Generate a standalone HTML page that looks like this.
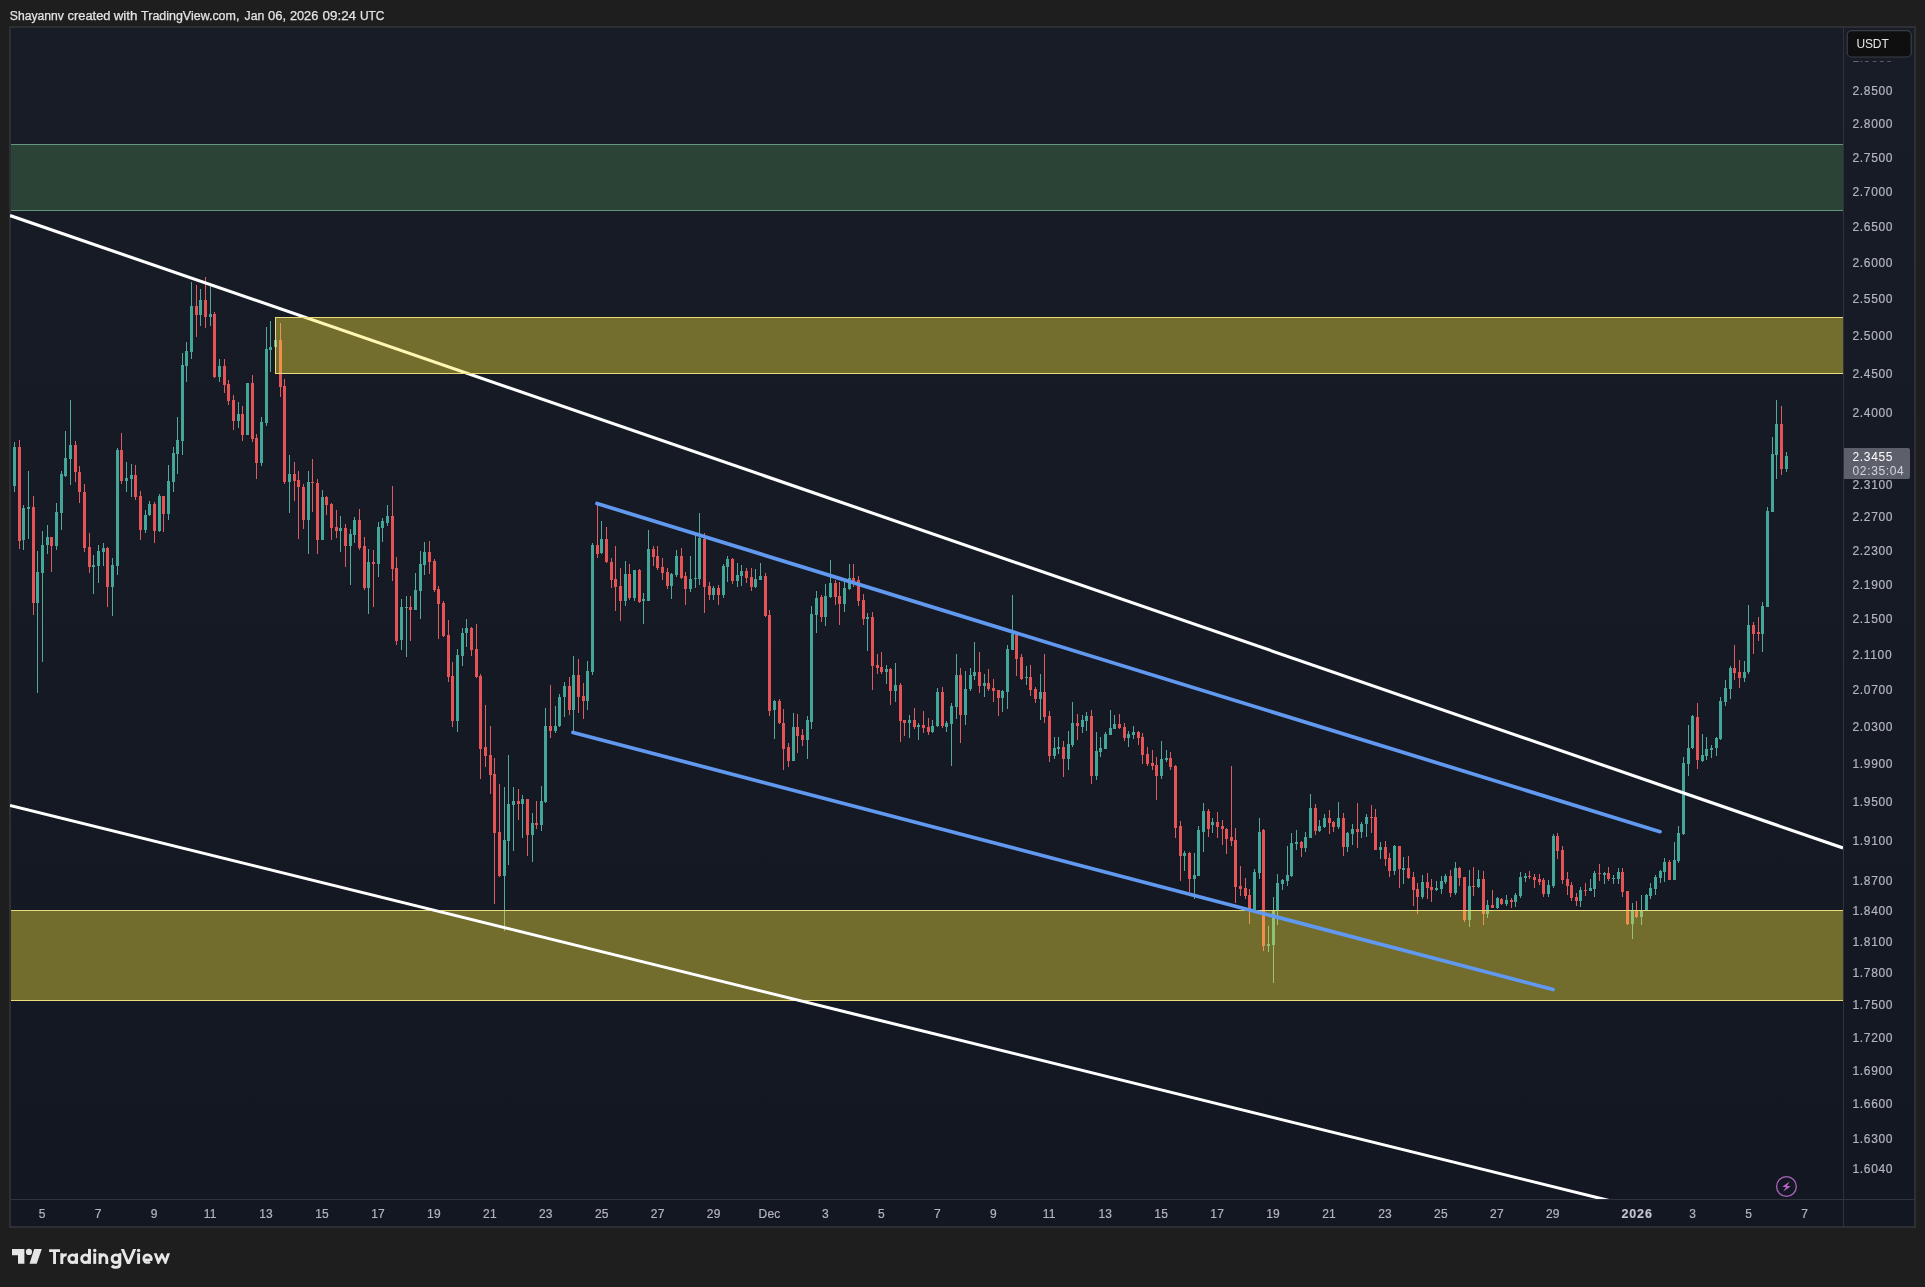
<!DOCTYPE html><html><head><meta charset="utf-8"><title>chart</title>
<style>html,body{margin:0;padding:0;background:#1e1e1e;}svg{display:block}text{font-family:"Liberation Sans",sans-serif;}</style></head><body>
<svg width="1925" height="1287" viewBox="0 0 1925 1287">
<defs><linearGradient id="bg" x1="0" y1="0" x2="0" y2="1"><stop offset="0" stop-color="#181c27"/><stop offset="1" stop-color="#131722"/></linearGradient>
<filter id="ga" x="-5%" y="-20%" width="110%" height="140%" color-interpolation-filters="sRGB"><feOffset dx="0" dy="0"/></filter>
<clipPath id="pane"><rect x="10" y="27" width="1833" height="1172"/></clipPath></defs>
<rect width="1925" height="1287" fill="#1e1e1e"/>
<rect x="9" y="26" width="1907" height="1202" fill="#2d2f34"/>
<rect x="11" y="28" width="1903" height="1198" fill="url(#bg)"/>
<rect x="1843" y="28" width="1" height="1198" fill="#2f333d"/>
<rect x="11" y="1199" width="1903" height="1" fill="#2f333d"/>
<g clip-path="url(#pane)">
<path d="M14 442h1V492h-1ZM23 505h1V550h-1ZM28 471h1V539h-1ZM37 551h1V693h-1ZM42 531h1V662h-1ZM47 525h1V554h-1ZM56 503h1V550h-1ZM61 471h1V530h-1ZM65 431h1V477h-1ZM70 400h1V485h-1ZM93 555h1V594h-1ZM98 545h1V583h-1ZM103 543h1V566h-1ZM112 558h1V616h-1ZM117 448h1V575h-1ZM126 462h1V492h-1ZM131 464h1V497h-1ZM145 510h1V533h-1ZM149 501h1V516h-1ZM159 494h1V532h-1ZM168 465h1V520h-1ZM173 447h1V492h-1ZM177 417h1V474h-1ZM182 353h1V455h-1ZM186 342h1V382h-1ZM191 282h1V359h-1ZM200 289h1V326h-1ZM210 286h1V326h-1ZM219 359h1V382h-1ZM238 402h1V428h-1ZM247 383h1V435h-1ZM261 417h1V466h-1ZM266 327h1V426h-1ZM270 321h1V372h-1ZM275 340h1V348h-1ZM289 455h1V513h-1ZM308 471h1V554h-1ZM322 490h1V540h-1ZM340 516h1V552h-1ZM350 529h1V585h-1ZM354 517h1V543h-1ZM368 549h1V614h-1ZM378 522h1V577h-1ZM382 518h1V542h-1ZM387 505h1V526h-1ZM401 599h1V650h-1ZM406 596h1V657h-1ZM415 573h1V610h-1ZM420 551h1V619h-1ZM424 542h1V575h-1ZM457 649h1V732h-1ZM462 628h1V666h-1ZM466 619h1V647h-1ZM504 787h1V931h-1ZM508 755h1V865h-1ZM513 787h1V851h-1ZM522 795h1V838h-1ZM532 813h1V862h-1ZM541 786h1V831h-1ZM545 708h1V803h-1ZM555 706h1V733h-1ZM559 694h1V727h-1ZM564 682h1V717h-1ZM573 656h1V731h-1ZM587 661h1V710h-1ZM592 543h1V675h-1ZM601 521h1V554h-1ZM625 561h1V606h-1ZM634 570h1V601h-1ZM643 593h1V624h-1ZM648 530h1V601h-1ZM671 573h1V599h-1ZM676 550h1V577h-1ZM690 556h1V592h-1ZM695 534h1V588h-1ZM699 513h1V585h-1ZM713 586h1V600h-1ZM723 564h1V598h-1ZM727 556h1V582h-1ZM737 563h1V587h-1ZM741 565h1V586h-1ZM755 569h1V588h-1ZM760 563h1V580h-1ZM774 700h1V739h-1ZM793 713h1V761h-1ZM807 716h1V759h-1ZM811 606h1V729h-1ZM816 591h1V633h-1ZM825 584h1V626h-1ZM830 560h1V598h-1ZM844 582h1V612h-1ZM849 564h1V590h-1ZM867 613h1V651h-1ZM886 665h1V684h-1ZM895 663h1V702h-1ZM909 715h1V738h-1ZM918 723h1V740h-1ZM932 720h1V733h-1ZM937 688h1V727h-1ZM946 721h1V732h-1ZM951 703h1V766h-1ZM956 654h1V719h-1ZM965 671h1V725h-1ZM970 668h1V691h-1ZM974 642h1V680h-1ZM984 674h1V697h-1ZM1002 690h1V712h-1ZM1007 645h1V709h-1ZM1012 595h1V650h-1ZM1026 666h1V685h-1ZM1040 674h1V720h-1ZM1054 737h1V759h-1ZM1058 737h1V754h-1ZM1068 731h1V770h-1ZM1072 702h1V747h-1ZM1082 715h1V733h-1ZM1086 712h1V731h-1ZM1096 732h1V780h-1ZM1100 737h1V757h-1ZM1105 732h1V749h-1ZM1110 710h1V735h-1ZM1114 715h1V729h-1ZM1128 731h1V747h-1ZM1133 726h1V739h-1ZM1161 741h1V779h-1ZM1166 750h1V762h-1ZM1184 851h1V871h-1ZM1194 853h1V899h-1ZM1198 826h1V876h-1ZM1203 803h1V852h-1ZM1212 818h1V833h-1ZM1254 869h1V910h-1ZM1259 818h1V879h-1ZM1268 926h1V952h-1ZM1273 897h1V983h-1ZM1277 874h1V925h-1ZM1282 879h1V890h-1ZM1287 846h1V886h-1ZM1291 833h1V877h-1ZM1296 830h1V850h-1ZM1305 832h1V852h-1ZM1310 794h1V838h-1ZM1319 820h1V832h-1ZM1324 814h1V828h-1ZM1338 802h1V829h-1ZM1347 832h1V852h-1ZM1352 824h1V845h-1ZM1361 822h1V838h-1ZM1366 814h1V837h-1ZM1380 842h1V859h-1ZM1394 845h1V875h-1ZM1403 857h1V884h-1ZM1422 875h1V899h-1ZM1436 881h1V891h-1ZM1441 876h1V894h-1ZM1445 874h1V884h-1ZM1455 862h1V895h-1ZM1469 870h1V927h-1ZM1478 870h1V888h-1ZM1487 900h1V918h-1ZM1497 897h1V909h-1ZM1506 895h1V906h-1ZM1515 893h1V907h-1ZM1520 872h1V898h-1ZM1525 873h1V882h-1ZM1548 880h1V897h-1ZM1553 834h1V888h-1ZM1580 887h1V907h-1ZM1590 879h1V891h-1ZM1594 871h1V897h-1ZM1604 872h1V884h-1ZM1613 875h1V884h-1ZM1618 868h1V884h-1ZM1632 903h1V939h-1ZM1641 895h1V925h-1ZM1646 894h1V910h-1ZM1650 883h1V899h-1ZM1655 875h1V895h-1ZM1660 870h1V883h-1ZM1664 858h1V882h-1ZM1674 842h1V880h-1ZM1678 826h1V863h-1ZM1683 757h1V835h-1ZM1688 725h1V776h-1ZM1692 715h1V749h-1ZM1702 734h1V762h-1ZM1706 737h1V760h-1ZM1711 745h1V758h-1ZM1716 737h1V756h-1ZM1720 697h1V740h-1ZM1725 680h1V706h-1ZM1730 666h1V699h-1ZM1744 661h1V682h-1ZM1748 605h1V674h-1ZM1762 602h1V652h-1ZM1767 507h1V607h-1ZM1772 437h1V512h-1ZM1776 400h1V479h-1ZM1786 452h1V472h-1Z" fill="#55a79c"/>
<path d="M19 440h1V549h-1ZM33 496h1V615h-1ZM51 537h1V572h-1ZM75 441h1V482h-1ZM79 466h1V503h-1ZM84 484h1V552h-1ZM89 533h1V573h-1ZM107 547h1V607h-1ZM121 433h1V484h-1ZM135 465h1V500h-1ZM140 491h1V540h-1ZM154 502h1V543h-1ZM163 496h1V532h-1ZM196 285h1V337h-1ZM205 277h1V328h-1ZM214 312h1V378h-1ZM224 359h1V393h-1ZM228 380h1V405h-1ZM233 395h1V430h-1ZM242 406h1V441h-1ZM252 375h1V442h-1ZM256 434h1V479h-1ZM280 323h1V397h-1ZM284 379h1V484h-1ZM294 462h1V501h-1ZM298 471h1V539h-1ZM303 484h1V529h-1ZM312 459h1V512h-1ZM317 479h1V554h-1ZM326 496h1V515h-1ZM331 503h1V540h-1ZM336 510h1V538h-1ZM345 524h1V567h-1ZM359 509h1V550h-1ZM364 537h1V590h-1ZM373 550h1V607h-1ZM392 486h1V581h-1ZM396 557h1V645h-1ZM410 596h1V641h-1ZM429 541h1V574h-1ZM434 559h1V592h-1ZM438 586h1V639h-1ZM443 601h1V637h-1ZM448 620h1V682h-1ZM452 662h1V727h-1ZM471 627h1V656h-1ZM476 624h1V678h-1ZM480 674h1V779h-1ZM485 705h1V767h-1ZM490 726h1V794h-1ZM494 758h1V904h-1ZM499 784h1V877h-1ZM518 789h1V820h-1ZM527 799h1V856h-1ZM536 801h1V829h-1ZM550 685h1V738h-1ZM569 677h1V715h-1ZM578 659h1V713h-1ZM583 683h1V719h-1ZM597 505h1V558h-1ZM606 527h1V563h-1ZM611 558h1V588h-1ZM615 546h1V611h-1ZM620 568h1V621h-1ZM629 564h1V600h-1ZM639 569h1V603h-1ZM653 546h1V566h-1ZM657 546h1V570h-1ZM662 558h1V580h-1ZM667 568h1V589h-1ZM681 548h1V579h-1ZM685 572h1V605h-1ZM704 533h1V613h-1ZM709 582h1V600h-1ZM718 585h1V605h-1ZM732 558h1V584h-1ZM746 568h1V583h-1ZM751 568h1V591h-1ZM765 573h1V617h-1ZM769 610h1V716h-1ZM779 699h1V724h-1ZM783 709h1V770h-1ZM788 743h1V767h-1ZM797 714h1V753h-1ZM802 729h1V746h-1ZM821 595h1V622h-1ZM835 580h1V605h-1ZM839 582h1V625h-1ZM853 564h1V587h-1ZM858 576h1V606h-1ZM863 594h1V625h-1ZM872 612h1V690h-1ZM877 654h1V674h-1ZM881 652h1V674h-1ZM890 668h1V705h-1ZM900 683h1V742h-1ZM904 720h1V736h-1ZM914 708h1V729h-1ZM923 711h1V733h-1ZM928 718h1V735h-1ZM942 687h1V728h-1ZM960 668h1V743h-1ZM979 652h1V693h-1ZM988 669h1V691h-1ZM993 679h1V702h-1ZM998 690h1V716h-1ZM1016 634h1V676h-1ZM1021 654h1V680h-1ZM1030 665h1V696h-1ZM1035 687h1V703h-1ZM1044 654h1V723h-1ZM1049 711h1V762h-1ZM1063 741h1V777h-1ZM1077 714h1V740h-1ZM1091 710h1V784h-1ZM1119 714h1V729h-1ZM1124 723h1V741h-1ZM1138 731h1V745h-1ZM1142 733h1V764h-1ZM1147 747h1V766h-1ZM1152 750h1V770h-1ZM1156 757h1V800h-1ZM1170 752h1V770h-1ZM1175 765h1V838h-1ZM1180 821h1V881h-1ZM1189 852h1V892h-1ZM1208 809h1V837h-1ZM1217 812h1V838h-1ZM1222 820h1V845h-1ZM1226 828h1V854h-1ZM1231 766h1V846h-1ZM1235 828h1V903h-1ZM1240 866h1V896h-1ZM1245 878h1V899h-1ZM1249 889h1V924h-1ZM1263 829h1V951h-1ZM1301 841h1V857h-1ZM1315 804h1V835h-1ZM1329 810h1V834h-1ZM1333 821h1V832h-1ZM1343 813h1V856h-1ZM1357 803h1V848h-1ZM1371 805h1V833h-1ZM1375 809h1V850h-1ZM1385 841h1V866h-1ZM1389 853h1V877h-1ZM1399 846h1V888h-1ZM1408 856h1V879h-1ZM1413 872h1V906h-1ZM1417 883h1V914h-1ZM1427 873h1V899h-1ZM1431 879h1V902h-1ZM1450 870h1V897h-1ZM1459 867h1V886h-1ZM1464 877h1V922h-1ZM1473 867h1V896h-1ZM1483 871h1V925h-1ZM1492 890h1V908h-1ZM1501 898h1V905h-1ZM1511 898h1V908h-1ZM1529 871h1V879h-1ZM1534 874h1V888h-1ZM1539 874h1V885h-1ZM1543 878h1V897h-1ZM1557 833h1V859h-1ZM1562 846h1V884h-1ZM1567 872h1V895h-1ZM1571 882h1V901h-1ZM1576 893h1V906h-1ZM1585 883h1V896h-1ZM1599 864h1V881h-1ZM1608 867h1V881h-1ZM1622 868h1V897h-1ZM1627 891h1V925h-1ZM1636 901h1V918h-1ZM1669 860h1V880h-1ZM1697 703h1V769h-1ZM1734 645h1V680h-1ZM1739 660h1V688h-1ZM1753 622h1V654h-1ZM1758 617h1V641h-1ZM1781 406h1V475h-1Z" fill="#dc5c62"/>
<path d="M13 447h3V486h-3ZM22 508h3V540h-3ZM27 507h3V509h-3ZM36 572h3V603h-3ZM41 545h3V573h-3ZM46 537h3V545h-3ZM55 512h3V546h-3ZM60 474h3V513h-3ZM64 458h3V476h-3ZM69 445h3V459h-3ZM92 565h3V567h-3ZM97 551h3V566h-3ZM102 548h3V552h-3ZM111 565h3V587h-3ZM116 450h3V566h-3ZM125 478h3V481h-3ZM130 475h3V479h-3ZM144 515h3V530h-3ZM148 504h3V515h-3ZM158 496h3V531h-3ZM167 481h3V514h-3ZM172 453h3V482h-3ZM176 440h3V454h-3ZM181 365h3V441h-3ZM185 351h3V366h-3ZM190 306h3V352h-3ZM199 300h3V315h-3ZM209 314h3V317h-3ZM218 366h3V377h-3ZM237 414h3V421h-3ZM246 383h3V435h-3ZM260 422h3V463h-3ZM265 349h3V423h-3ZM269 347h3V350h-3ZM274 340h3V347h-3ZM288 474h3V482h-3ZM307 482h3V520h-3ZM321 497h3V540h-3ZM339 528h3V531h-3ZM349 534h3V546h-3ZM353 520h3V535h-3ZM367 562h3V588h-3ZM377 527h3V564h-3ZM381 521h3V528h-3ZM386 516h3V523h-3ZM400 607h3V640h-3ZM405 607h3V608h-3ZM414 590h3V610h-3ZM419 564h3V591h-3ZM423 552h3V565h-3ZM456 655h3V721h-3ZM461 633h3V656h-3ZM465 628h3V633h-3ZM503 840h3V876h-3ZM507 804h3V841h-3ZM512 801h3V805h-3ZM521 799h3V804h-3ZM531 823h3V835h-3ZM540 801h3V825h-3ZM544 726h3V802h-3ZM554 726h3V731h-3ZM558 697h3V726h-3ZM563 686h3V697h-3ZM572 675h3V710h-3ZM586 671h3V701h-3ZM591 545h3V672h-3ZM600 539h3V553h-3ZM624 574h3V601h-3ZM633 570h3V598h-3ZM642 599h3V601h-3ZM647 549h3V601h-3ZM670 574h3V586h-3ZM675 556h3V575h-3ZM689 579h3V589h-3ZM694 578h3V579h-3ZM698 538h3V579h-3ZM712 588h3V595h-3ZM722 566h3V595h-3ZM726 559h3V567h-3ZM736 575h3V581h-3ZM740 571h3V576h-3ZM754 579h3V587h-3ZM759 576h3V580h-3ZM773 701h3V710h-3ZM792 727h3V761h-3ZM806 720h3V740h-3ZM810 614h3V722h-3ZM815 598h3V615h-3ZM824 596h3V617h-3ZM829 583h3V597h-3ZM843 588h3V604h-3ZM848 578h3V589h-3ZM866 617h3V619h-3ZM885 669h3V672h-3ZM894 685h3V691h-3ZM908 720h3V723h-3ZM917 725h3V727h-3ZM931 726h3V732h-3ZM936 692h3V726h-3ZM945 723h3V727h-3ZM950 706h3V724h-3ZM955 675h3V707h-3ZM964 689h3V715h-3ZM969 675h3V689h-3ZM973 672h3V676h-3ZM983 683h3V686h-3ZM1001 691h3V698h-3ZM1006 649h3V692h-3ZM1011 634h3V650h-3ZM1025 677h3V678h-3ZM1039 692h3V699h-3ZM1053 748h3V756h-3ZM1057 747h3V749h-3ZM1067 744h3V759h-3ZM1071 723h3V745h-3ZM1081 720h3V727h-3ZM1085 716h3V721h-3ZM1095 751h3V776h-3ZM1099 748h3V752h-3ZM1104 734h3V749h-3ZM1109 728h3V735h-3ZM1113 724h3V729h-3ZM1127 734h3V738h-3ZM1132 732h3V735h-3ZM1160 759h3V776h-3ZM1165 758h3V760h-3ZM1183 853h3V856h-3ZM1193 875h3V879h-3ZM1197 830h3V876h-3ZM1202 811h3V832h-3ZM1211 822h3V825h-3ZM1253 872h3V910h-3ZM1258 832h3V873h-3ZM1267 944h3V946h-3ZM1272 910h3V945h-3ZM1276 883h3V910h-3ZM1281 880h3V884h-3ZM1286 875h3V881h-3ZM1290 843h3V876h-3ZM1295 842h3V844h-3ZM1304 837h3V848h-3ZM1309 808h3V838h-3ZM1318 826h3V831h-3ZM1323 818h3V827h-3ZM1337 818h3V827h-3ZM1346 833h3V847h-3ZM1351 829h3V834h-3ZM1360 824h3V832h-3ZM1365 817h3V824h-3ZM1379 847h3V850h-3ZM1393 846h3V871h-3ZM1402 868h3V870h-3ZM1421 882h3V897h-3ZM1435 888h3V890h-3ZM1440 881h3V889h-3ZM1444 876h3V882h-3ZM1454 868h3V893h-3ZM1468 886h3V920h-3ZM1477 879h3V887h-3ZM1486 905h3V914h-3ZM1496 898h3V908h-3ZM1505 900h3V904h-3ZM1514 895h3V902h-3ZM1519 877h3V896h-3ZM1524 876h3V878h-3ZM1547 885h3V894h-3ZM1552 836h3V886h-3ZM1579 890h3V901h-3ZM1589 888h3V891h-3ZM1593 873h3V889h-3ZM1603 873h3V875h-3ZM1612 878h3V879h-3ZM1617 872h3V879h-3ZM1631 910h3V924h-3ZM1640 910h3V917h-3ZM1645 895h3V910h-3ZM1649 888h3V896h-3ZM1654 877h3V889h-3ZM1659 871h3V878h-3ZM1663 862h3V872h-3ZM1673 860h3V880h-3ZM1677 833h3V861h-3ZM1682 763h3V834h-3ZM1687 748h3V764h-3ZM1691 716h3V748h-3ZM1701 755h3V761h-3ZM1705 749h3V756h-3ZM1710 748h3V750h-3ZM1715 738h3V748h-3ZM1719 701h3V739h-3ZM1724 688h3V702h-3ZM1729 668h3V689h-3ZM1743 672h3V678h-3ZM1747 625h3V672h-3ZM1761 606h3V634h-3ZM1766 511h3V607h-3ZM1771 454h3V512h-3ZM1775 424h3V455h-3ZM1785 456h3V469h-3Z" fill="#43a699"/>
<path d="M18 447h3V541h-3ZM32 507h3V603h-3ZM50 537h3V546h-3ZM74 445h3V472h-3ZM78 472h3V492h-3ZM83 492h3V548h-3ZM88 547h3V567h-3ZM106 548h3V587h-3ZM120 450h3V481h-3ZM134 475h3V497h-3ZM139 496h3V530h-3ZM153 504h3V531h-3ZM162 496h3V514h-3ZM195 306h3V315h-3ZM204 300h3V317h-3ZM213 314h3V377h-3ZM223 366h3V385h-3ZM227 384h3V401h-3ZM232 400h3V421h-3ZM241 414h3V435h-3ZM251 383h3V439h-3ZM255 438h3V463h-3ZM279 340h3V387h-3ZM283 386h3V482h-3ZM293 474h3V481h-3ZM297 480h3V487h-3ZM302 487h3V520h-3ZM311 482h3V483h-3ZM316 483h3V540h-3ZM325 497h3V505h-3ZM330 504h3V528h-3ZM335 527h3V531h-3ZM344 528h3V546h-3ZM358 520h3V548h-3ZM363 546h3V588h-3ZM372 562h3V564h-3ZM391 516h3V569h-3ZM395 568h3V641h-3ZM409 607h3V610h-3ZM428 552h3V562h-3ZM433 561h3V590h-3ZM437 589h3V604h-3ZM442 603h3V636h-3ZM447 635h3V677h-3ZM451 676h3V721h-3ZM470 628h3V650h-3ZM475 649h3V677h-3ZM479 676h3V749h-3ZM484 747h3V756h-3ZM489 755h3V775h-3ZM493 774h3V833h-3ZM498 832h3V876h-3ZM517 801h3V804h-3ZM526 799h3V835h-3ZM535 823h3V825h-3ZM549 726h3V731h-3ZM568 686h3V710h-3ZM577 675h3V697h-3ZM582 696h3V701h-3ZM596 545h3V554h-3ZM605 539h3V562h-3ZM610 562h3V580h-3ZM614 579h3V587h-3ZM619 586h3V601h-3ZM628 574h3V598h-3ZM638 570h3V602h-3ZM652 549h3V557h-3ZM656 556h3V568h-3ZM661 567h3V573h-3ZM666 572h3V586h-3ZM680 556h3V578h-3ZM684 576h3V589h-3ZM703 539h3V587h-3ZM708 586h3V595h-3ZM717 588h3V595h-3ZM731 559h3V581h-3ZM745 571h3V578h-3ZM750 577h3V587h-3ZM764 576h3V616h-3ZM768 615h3V711h-3ZM778 701h3V723h-3ZM782 723h3V749h-3ZM787 747h3V761h-3ZM796 727h3V736h-3ZM801 735h3V740h-3ZM820 597h3V617h-3ZM834 583h3V597h-3ZM838 596h3V604h-3ZM852 578h3V581h-3ZM857 580h3V601h-3ZM862 600h3V619h-3ZM871 617h3V666h-3ZM876 665h3V668h-3ZM880 667h3V672h-3ZM889 669h3V691h-3ZM899 685h3V721h-3ZM903 720h3V723h-3ZM913 720h3V727h-3ZM922 725h3V728h-3ZM927 727h3V732h-3ZM941 692h3V726h-3ZM959 675h3V715h-3ZM978 672h3V686h-3ZM987 683h3V689h-3ZM992 688h3V691h-3ZM997 690h3V698h-3ZM1015 635h3V659h-3ZM1020 657h3V679h-3ZM1029 677h3V690h-3ZM1034 689h3V699h-3ZM1043 692h3V717h-3ZM1048 716h3V756h-3ZM1062 747h3V759h-3ZM1076 723h3V726h-3ZM1090 716h3V776h-3ZM1118 724h3V728h-3ZM1123 727h3V738h-3ZM1137 732h3V738h-3ZM1141 737h3V755h-3ZM1146 754h3V764h-3ZM1151 763h3V766h-3ZM1155 765h3V776h-3ZM1169 758h3V767h-3ZM1174 766h3V828h-3ZM1179 826h3V856h-3ZM1188 853h3V879h-3ZM1207 811h3V829h-3ZM1216 822h3V827h-3ZM1221 826h3V829h-3ZM1225 829h3V839h-3ZM1230 837h3V841h-3ZM1234 840h3V887h-3ZM1239 886h3V889h-3ZM1244 888h3V896h-3ZM1248 895h3V909h-3ZM1262 830h3V946h-3ZM1300 842h3V848h-3ZM1314 808h3V831h-3ZM1328 818h3V823h-3ZM1332 822h3V827h-3ZM1342 818h3V847h-3ZM1356 829h3V832h-3ZM1370 817h3V818h-3ZM1374 817h3V850h-3ZM1384 847h3V859h-3ZM1388 858h3V871h-3ZM1398 846h3V869h-3ZM1407 868h3V878h-3ZM1412 877h3V890h-3ZM1416 889h3V897h-3ZM1426 882h3V888h-3ZM1430 887h3V890h-3ZM1449 876h3V893h-3ZM1458 868h3V878h-3ZM1463 877h3V920h-3ZM1472 886h3V887h-3ZM1482 879h3V914h-3ZM1491 905h3V908h-3ZM1500 899h3V904h-3ZM1510 900h3V902h-3ZM1528 876h3V877h-3ZM1533 877h3V880h-3ZM1538 879h3V882h-3ZM1542 880h3V894h-3ZM1556 836h3V851h-3ZM1561 850h3V880h-3ZM1566 879h3V886h-3ZM1570 885h3V898h-3ZM1575 897h3V901h-3ZM1584 890h3V891h-3ZM1598 873h3V874h-3ZM1607 873h3V879h-3ZM1621 872h3V892h-3ZM1626 891h3V924h-3ZM1635 910h3V917h-3ZM1668 862h3V880h-3ZM1696 717h3V760h-3ZM1733 668h3V673h-3ZM1738 672h3V678h-3ZM1752 625h3V634h-3ZM1757 632h3V634h-3ZM1780 424h3V469h-3Z" fill="#e45355"/>
<rect x="11" y="910" width="1836" height="91" fill="#ffeb3b" fill-opacity="0.4"/><path d="M11 910.5H1847M11 1000.5H1847" stroke="#e8dc7c" stroke-width="1"/>
<rect x="11" y="144" width="1836" height="67" fill="#66bb6a" fill-opacity="0.25"/><path d="M11 144.5H1847M11 210.5H1847" stroke="#64957a" stroke-width="1"/>
<path d="M10 215.5L1843 848" stroke="#ffffff" stroke-width="3.1" fill="none"/>
<path d="M10 805.5L1611 1201" stroke="#ffffff" stroke-width="3.1" fill="none"/>
<rect x="275.5" y="317.5" width="1571.5" height="56" fill="#ffeb3b" fill-opacity="0.4" stroke="#e8dc7c" stroke-width="1"/>
<path d="M597 503.5L1660 831.7" stroke="#6199f0" stroke-width="3.7" stroke-linecap="round" fill="none"/>
<path d="M573 732.5L1553 989.5" stroke="#6199f0" stroke-width="3.7" stroke-linecap="round" fill="none"/>
</g>
<g transform="translate(1786.45,1186.5)"><circle r="9.85" fill="none" stroke="#aa65bc" stroke-width="1.3"/><path d="M3.25 -5.1L-4.15 0.2L-0.3 0.5L-3.25 4.9L4.35 -0.3L0.4 -0.6Z" fill="#c266d2"/></g>
<g font-size="12" fill="#b2b5be" stroke="#b2b5be" stroke-width="0.2" letter-spacing="0.65" filter="url(#ga)">
<text x="1852.5" y="62.0">2.9000</text>
<text x="1852.5" y="94.6">2.8500</text>
<text x="1852.5" y="127.8">2.8000</text>
<text x="1852.5" y="161.6">2.7500</text>
<text x="1852.5" y="196.0">2.7000</text>
<text x="1852.5" y="231.1">2.6500</text>
<text x="1852.5" y="266.8">2.6000</text>
<text x="1852.5" y="303.2">2.5500</text>
<text x="1852.5" y="340.4">2.5000</text>
<text x="1852.5" y="378.3">2.4500</text>
<text x="1852.5" y="416.9">2.4000</text>
<text x="1852.5" y="488.6">2.3100</text>
<text x="1852.5" y="521.4">2.2700</text>
<text x="1852.5" y="554.7">2.2300</text>
<text x="1852.5" y="588.7">2.1900</text>
<text x="1852.5" y="623.2">2.1500</text>
<text x="1852.5" y="658.5">2.1100</text>
<text x="1852.5" y="694.3">2.0700</text>
<text x="1852.5" y="730.9">2.0300</text>
<text x="1852.5" y="768.3">1.9900</text>
<text x="1852.5" y="806.3">1.9500</text>
<text x="1852.5" y="845.2">1.9100</text>
<text x="1852.5" y="884.9">1.8700</text>
<text x="1852.5" y="915.2">1.8400</text>
<text x="1852.5" y="946.1">1.8100</text>
<text x="1852.5" y="977.4">1.7800</text>
<text x="1852.5" y="1009.3">1.7500</text>
<text x="1852.5" y="1041.7">1.7200</text>
<text x="1852.5" y="1074.7">1.6900</text>
<text x="1852.5" y="1108.3">1.6600</text>
<text x="1852.5" y="1142.5">1.6300</text>
<text x="1852.5" y="1172.7">1.6040</text>
</g>
<rect x="1844" y="28" width="70" height="33.5" fill="#181c27"/>
<rect x="1847.2" y="30.6" width="64" height="26.4" rx="4.5" fill="#0f0f0f" stroke="#3a3e47" stroke-width="1.2"/>
<text x="1856.5" y="48" font-size="12" fill="#e6e6e6" letter-spacing="-0.15" filter="url(#ga)">USDT</text>
<path d="M1844 448H1908a2 2 0 0 1 2 2V477a2 2 0 0 1 -2 2H1844Z" fill="#5d606b"/>
<g font-size="12" letter-spacing="0.65" filter="url(#ga)"><text x="1852.5" y="461" fill="#ffffff">2.3455</text><text x="1852.5" y="475" fill="#d5d6da">02:35:04</text></g>
<g font-size="12" fill="#b2b5be" stroke="#b2b5be" stroke-width="0.2" text-anchor="middle" letter-spacing="0.2" filter="url(#ga)">
<text x="42.3" y="1218.2">5</text>
<text x="98.2" y="1218.2">7</text>
<text x="154.2" y="1218.2">9</text>
<text x="210.1" y="1218.2">11</text>
<text x="266.1" y="1218.2">13</text>
<text x="322.0" y="1218.2">15</text>
<text x="378.0" y="1218.2">17</text>
<text x="433.9" y="1218.2">19</text>
<text x="489.9" y="1218.2">21</text>
<text x="545.8" y="1218.2">23</text>
<text x="601.8" y="1218.2">25</text>
<text x="657.7" y="1218.2">27</text>
<text x="713.7" y="1218.2">29</text>
<text x="769.6" y="1218.2">Dec</text>
<text x="825.5" y="1218.2">3</text>
<text x="881.5" y="1218.2">5</text>
<text x="937.4" y="1218.2">7</text>
<text x="993.4" y="1218.2">9</text>
<text x="1049.3" y="1218.2">11</text>
<text x="1105.3" y="1218.2">13</text>
<text x="1161.2" y="1218.2">15</text>
<text x="1217.2" y="1218.2">17</text>
<text x="1273.1" y="1218.2">19</text>
<text x="1329.1" y="1218.2">21</text>
<text x="1385.0" y="1218.2">23</text>
<text x="1440.9" y="1218.2">25</text>
<text x="1496.9" y="1218.2">27</text>
<text x="1552.8" y="1218.2">29</text>
<text x="1637.1" y="1218.2" font-weight="bold" font-size="12.5" letter-spacing="0.9" fill="#c3c6ce">2026</text>
<text x="1692.7" y="1218.2">3</text>
<text x="1748.7" y="1218.2">5</text>
<text x="1804.6" y="1218.2">7</text>
</g>
<text y="20.2" font-size="12.3" fill="#e3e3e3" stroke="#e3e3e3" stroke-width="0.25" filter="url(#ga)"><tspan x="9.8" textLength="54.0" lengthAdjust="spacingAndGlyphs">Shayannv</tspan><tspan x="67.6" textLength="42.9" lengthAdjust="spacingAndGlyphs">created</tspan><tspan x="113.7" textLength="23.8" lengthAdjust="spacingAndGlyphs">with</tspan><tspan x="141.1" textLength="98.3" lengthAdjust="spacingAndGlyphs">TradingView.com,</tspan><tspan x="244.6" textLength="19.7" lengthAdjust="spacingAndGlyphs">Jan</tspan><tspan x="267.9" textLength="18.2" lengthAdjust="spacingAndGlyphs">06,</tspan><tspan x="289.9" textLength="28.4" lengthAdjust="spacingAndGlyphs">2026</tspan><tspan x="322.5" textLength="33.6" lengthAdjust="spacingAndGlyphs">09:24</tspan><tspan x="359.9" textLength="24.5" lengthAdjust="spacingAndGlyphs">UTC</tspan></text>
<g fill="#e6e6e6">
<path d="M12 1249H24.4V1263.8H18V1255.3H12Z"/>
<circle cx="29" cy="1251.9" r="3.1"/>
<path d="M34.2 1249H41.8L36.7 1263.8H29.5Z"/>
</g>
<clipPath id="lw"><rect x="150" y="1253.3" width="24" height="10.6"/></clipPath>
<g fill="none" stroke="#e6e6e6" stroke-width="2.9">
<path d="M49.1 1250.6H60M54.55 1249.2V1263.9"/>
<path d="M61.8 1253.3V1263.9M61.8 1259.6C61.8 1256.3 63.6 1254.7 66.7 1254.8"/>
<circle cx="72.6" cy="1258.7" r="3.85"/><path d="M76.55 1253.3V1263.9"/>
<circle cx="85.5" cy="1258.7" r="3.85"/><path d="M89.45 1248.9V1263.9"/>
<path d="M94.75 1253.3V1263.9"/>
<path d="M100.05 1253.3V1263.9M100.05 1258.7A3.37 4 0 0 1 106.8 1258.7V1263.9"/>
<circle cx="115.9" cy="1258.7" r="3.85"/><path d="M119.85 1253.3V1264.2C119.85 1266.5 118.2 1267.4 115.8 1267.4C114.1 1267.4 112.8 1266.9 111.7 1265.9"/>
<path d="M138.6 1253.3V1263.9"/>
<path d="M143.8 1259.8H151.2A3.85 3.85 0 1 0 149.97 1261.65" stroke-width="2.6"/>
<path d="M154.6 1251.5L158.4 1262.2L161.9 1254.6L165.4 1262.2L169.2 1251.5" stroke-width="2.7" stroke-linejoin="miter" stroke-miterlimit="10" clip-path="url(#lw)"/>
</g>
<g fill="#e6e6e6"><circle cx="94.75" cy="1250.4" r="1.75"/><circle cx="138.6" cy="1250.4" r="1.75"/>
<path d="M120.8 1248.9H124L128.5 1260L133 1248.9H136.2L130 1263.9H127Z"/></g>
</svg></body></html>
